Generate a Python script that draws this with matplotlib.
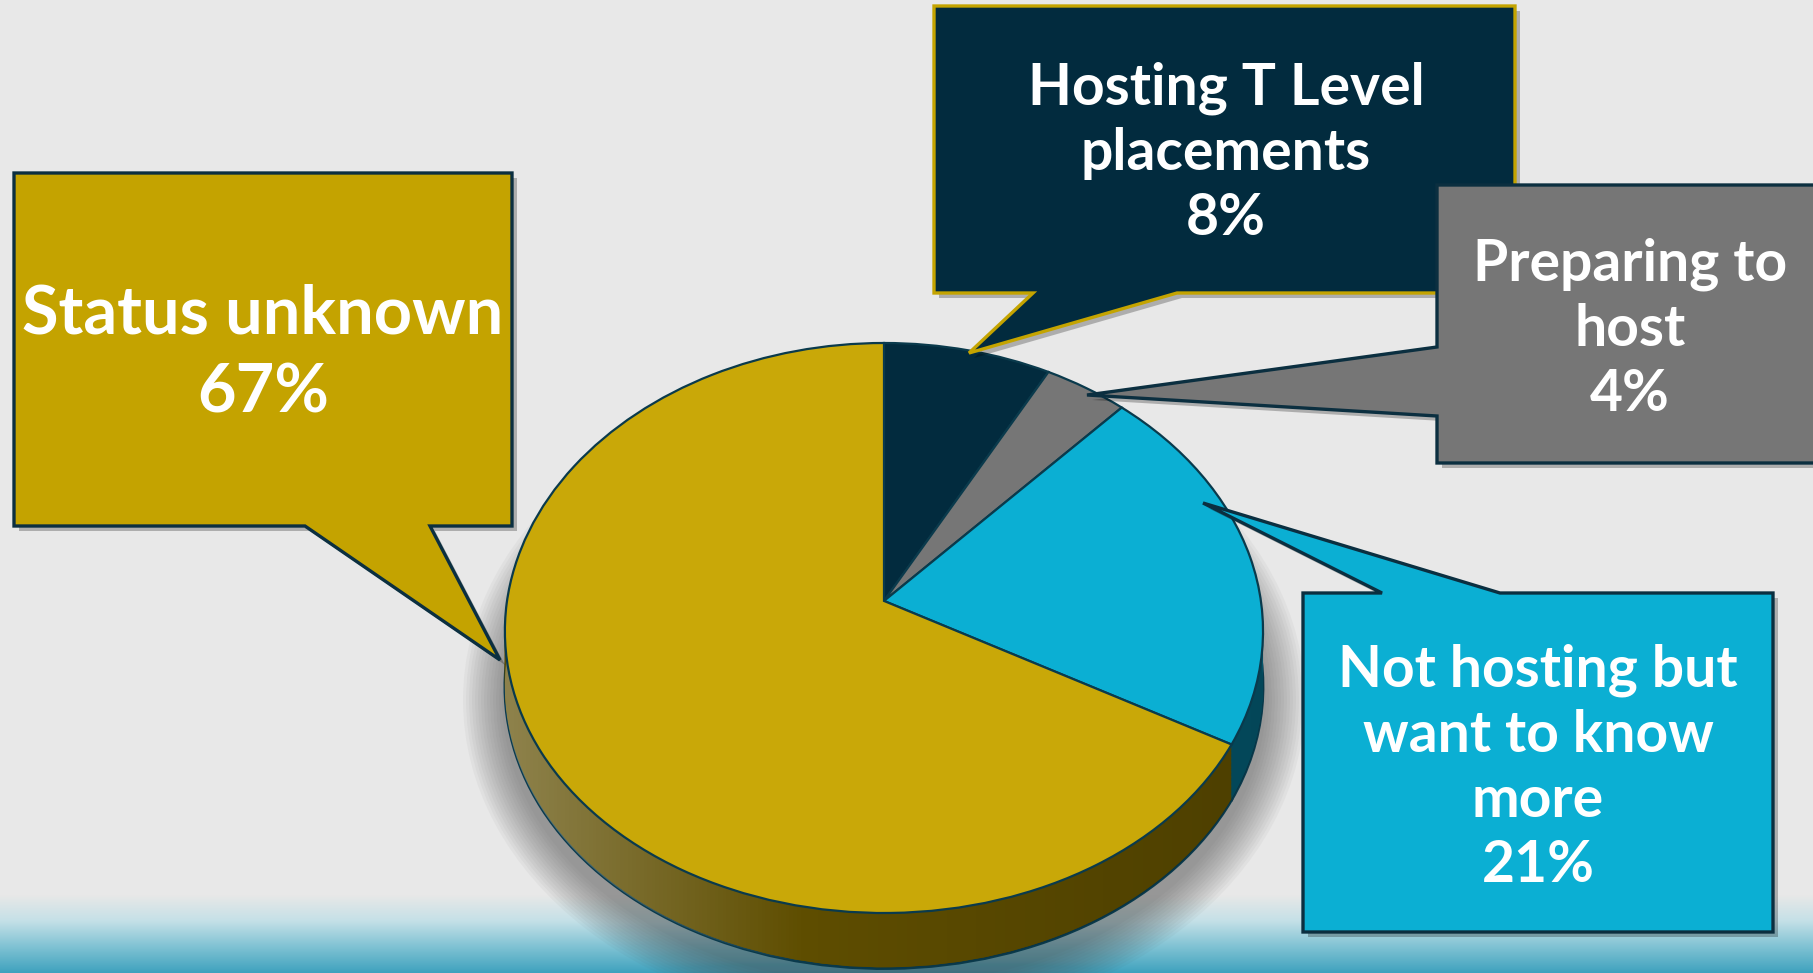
import matplotlib.pyplot as plt
import numpy as np
from matplotlib.patches import Polygon, Ellipse
from matplotlib.colors import LinearSegmentedColormap
from matplotlib.transforms import Transform, Affine2D

# data
labels = ['Hosting T Level\nplacements', 'Preparing to\nhost',
          'Not hosting but\nwant to know\nmore', 'Status unknown']
shares = [8, 4, 21, 67]
top_colors = ['#022B3E', '#767676', '#0BAFD3', '#C9A808']
side_colors = ['#011C29', '#4A4A4A', '#04566C', '#5E4D00']

plt.rcParams['font.family'] = ['Lato', 'DejaVu Sans']

K_LIFT, M_SHRINK = 0.095, 0.108


class Tilt(Transform):
    """fake perspective: far side of the pie a bit narrower, centre lifted"""
    input_dims = output_dims = 2

    def __init__(self, k, m):
        super().__init__()
        self.k = k
        self.m = m

    def transform_non_affine(self, xy):
        xy = np.asarray(xy, float)
        x, y = xy[:, 0], xy[:, 1]
        return np.column_stack([x * (1 - self.m * y), y + self.k * (1 - y ** 2)])


W, H = 1813, 973
fig = plt.figure(figsize=(W / 100, H / 100), dpi=100)
fig.patch.set_facecolor('#E8E8E8')

# background with teal band at the bottom
bg = fig.add_axes([0, 0, 1, 1], zorder=0)
band = LinearSegmentedColormap.from_list(
    'band', ['#E8E8E8', '#C4E0E7', '#7FC2D3', '#3FA2BE'])
bg.imshow(np.linspace(0, 1, 200).reshape(-1, 1), cmap=band,
          extent=(0, W, H, 895), aspect='auto')
# soft shadow under the pie
for k in range(0, 40, 3):
    bg.add_patch(Ellipse((884, 700), 2 * (382 + k), 2 * (285 + k),
                         fc='#444444', ec='none', alpha=0.045))
bg.set_xlim(0, W)
bg.set_ylim(H, 0)
bg.axis('off')

# pie: data units mapped so that radius 1 becomes the top ellipse
cx, cy, a, b = 884, 628, 377, 285
depth = 0.195
tilt = Tilt(K_LIFT, M_SHRINK)
pa = fig.add_axes([0, 0, 1, 1], zorder=1)
pa.patch.set_alpha(0)
edge = '#0A3A4C'

offs = np.linspace(depth, 0.0, 45)
for i, off in enumerate(offs[:-1]):
    ws, _ = pa.pie(shares, colors=side_colors, startangle=90, counterclock=False,
                   radius=1, frame=True,
                   wedgeprops=dict(edgecolor=edge if i == 0 else 'none',
                                   linewidth=2 if i == 0 else 0))
    for w in ws:
        w.set_transform(tilt + Affine2D().translate(0, -off) + pa.transData)

# light/dark gradient across the side wall
t = np.linspace(np.pi, 2 * np.pi, 300)
front = tilt.transform(np.column_stack([np.cos(t), np.sin(t)]))
side_poly = np.vstack([front, front[::-1] - [0, depth]])
clip = Polygon(side_poly, closed=True, transform=pa.transData, fc='none', ec='none')
pa.add_patch(clip)
gx = np.linspace(-1.05, 1.05, 300)
rgba = np.zeros((1, 300, 4))
light = np.clip((-0.2 - gx) / 0.8, 0, 1)
dark = np.clip((gx + 0.2) / 1.2, 0, 1)
rgba[0, :, :3] = np.where(light[:, None] > 0, 1.0, 0.0)
rgba[0, :, 3] = np.maximum(light * 0.3, dark * 0.18)
im = pa.imshow(rgba, extent=(-1.05, 1.05, -1.2 - depth, 0.1), aspect='auto', zorder=3)
im.set_clip_path(clip)

wedges, _ = pa.pie(shares, colors=top_colors, startangle=90, counterclock=False,
                   radius=1, frame=True,
                   wedgeprops=dict(edgecolor=edge, linewidth=1.6))
for w in wedges:
    w.set_transform(tilt + pa.transData)
    w.set_zorder(4)
pa.set_aspect('auto')
pa.set_xlim(-cx / a, (W - cx) / a)
pa.set_ylim((cy - H) / b, cy / b)
pa.axis('off')

# callouts in pixel coordinates
ov = fig.add_axes([0, 0, 1, 1], zorder=2)
ov.patch.set_alpha(0)
ov.set_xlim(0, W)
ov.set_ylim(H, 0)
ov.axis('off')

navy = '#0B2F40'
callouts = [
    # (points, face, edge, text centre, fontsize, linespacing)
    ([(934, 6), (1515, 6), (1515, 293), (1177, 293), (969, 353), (1033, 293), (934, 293)],
     top_colors[0], '#C4A400', (1226, 153), 41, 1.28),
    ([(1437, 185), (1840, 185), (1840, 463), (1437, 463), (1437, 416), (1087, 395), (1437, 347)],
     top_colors[1], navy, (1630, 329), 41, 1.28),
    ([(1303, 593), (1382, 593), (1203, 503), (1500, 593), (1773, 593), (1773, 932), (1303, 932)],
     top_colors[2], navy, (1538, 768), 41, 1.28),
    ([(14, 173), (512, 173), (512, 526), (430, 526), (500, 660), (305, 526), (14, 526)],
     '#C4A300', navy, (263, 354), 48, 1.34),
]

for (pts, fc, ec, (tx, ty), fs, ls), lab, val in zip(callouts, labels, shares):
    sh = [(x + 5, y + 5) for x, y in pts]
    ov.add_patch(Polygon(sh, closed=True, fc='#000000', ec='none', alpha=0.25))
    ov.add_patch(Polygon(pts, closed=True, fc=fc, ec=ec, lw=2.4, joinstyle='miter'))
    ov.text(tx, ty, f"{lab}\n{val}%", ha='center', va='center', color='white',
            fontsize=fs, fontweight='bold', linespacing=ls)

fig.savefig('out.png', dpi=100, facecolor=fig.get_facecolor())
